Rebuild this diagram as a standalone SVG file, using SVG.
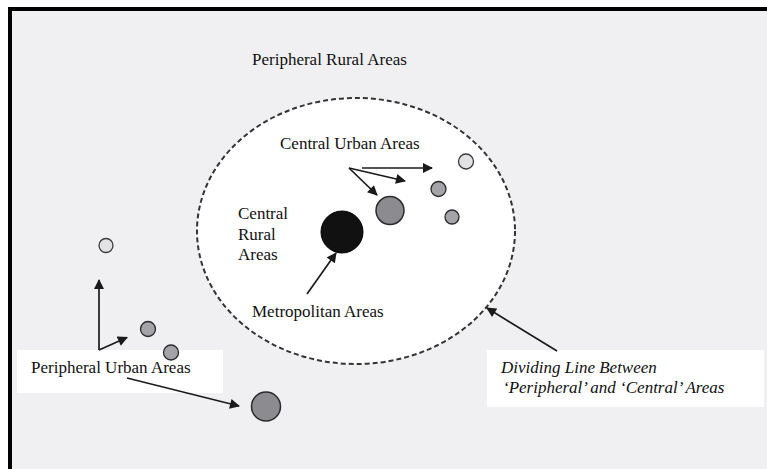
<svg xmlns="http://www.w3.org/2000/svg" width="767" height="469" viewBox="0 0 767 469">
<style>
text{font-family:"Liberation Serif","Times New Roman",serif;font-size:17px;fill:#111111}
.it{font-style:italic}
.ln{stroke:#1a1a1a;stroke-width:1.7;fill:none}
.dk{fill:#8c8c90;stroke:#2a2a2a;stroke-width:1.5}
.md{fill:#a4a4a8;stroke:#2a2a2a;stroke-width:1.3}
.lt{fill:#e2e2e4;stroke:#3a3a3a;stroke-width:1.3}
.box{fill:#ffffff}
</style>
<defs>
<marker id="ahb" viewBox="0 0 10 10" refX="9" refY="5" markerWidth="11" markerHeight="10" orient="auto" markerUnits="userSpaceOnUse">
<path d="M0,0 L10,5 L0,10 z" fill="#1a1a1a"/>
</marker>
</defs>
<rect x="0" y="0" width="767" height="469" fill="#ffffff"/>
<rect x="8" y="7" width="759" height="462" fill="#000000"/>
<rect x="12" y="11" width="755" height="458" fill="#f0f0f2"/>
<g id="central-region">
<ellipse cx="356" cy="231" rx="159" ry="133" fill="#ffffff" stroke="#333333" stroke-width="2" stroke-dasharray="5,3"/>
</g>
<g id="label-peripheral-rural"><text x="252" y="65">Peripheral Rural Areas</text></g>
<g id="label-central-urban"><text x="280" y="149">Central Urban Areas</text></g>
<g id="label-central-rural"><text x="238" y="219">Central</text><text x="238" y="240">Rural</text><text x="238" y="260">Areas</text></g>
<g id="label-metropolitan"><text x="252" y="317">Metropolitan Areas</text></g>
<g id="label-peripheral-urban"><rect class="box" x="17" y="350" width="206" height="43"/><text x="31" y="373">Peripheral Urban Areas</text></g>
<g id="label-dividing"><rect class="box" x="487" y="350" width="277" height="57"/><text class="it" x="501" y="373">Dividing Line Between</text><text class="it" x="503" y="393">‘Peripheral’ and ‘Central’ Areas</text></g>
<g id="metro-node"><circle cx="342" cy="232" r="21" fill="#111111" stroke="#000" stroke-width="1"/></g>
<g id="central-urban-1"><circle class="dk" cx="390" cy="210.5" r="14"/></g>
<g id="central-urban-2"><circle class="lt" cx="466" cy="161.5" r="7.5"/></g>
<g id="central-urban-3"><circle class="md" cx="438.5" cy="189" r="7.5"/></g>
<g id="central-urban-4"><circle class="md" cx="452" cy="217" r="7"/></g>
<g id="peripheral-urban-1"><circle class="lt" cx="106" cy="245.5" r="7"/></g>
<g id="peripheral-urban-2"><circle class="md" cx="148" cy="329" r="7.5"/></g>
<g id="peripheral-urban-3"><circle class="md" cx="171" cy="352.5" r="7.5"/></g>
<g id="peripheral-urban-4"><circle class="dk" cx="266" cy="406.5" r="14.5"/></g>
<g id="connectors">
<line class="ln" x1="362" y1="168" x2="432" y2="168" marker-end="url(#ahb)"/>
<line class="ln" x1="349" y1="168" x2="405" y2="181" marker-end="url(#ahb)"/>
<line class="ln" x1="349" y1="168" x2="377" y2="195" marker-end="url(#ahb)"/>
<line class="ln" x1="307" y1="294" x2="336" y2="253" marker-end="url(#ahb)"/>
<line class="ln" x1="99" y1="350" x2="99" y2="280" marker-end="url(#ahb)"/>
<line class="ln" x1="99" y1="350" x2="127" y2="337.5" marker-end="url(#ahb)"/>
<line class="ln" x1="127" y1="378" x2="239" y2="406" marker-end="url(#ahb)"/>
<line class="ln" x1="557" y1="351" x2="487" y2="308" marker-end="url(#ahb)"/>
</g>
</svg>
